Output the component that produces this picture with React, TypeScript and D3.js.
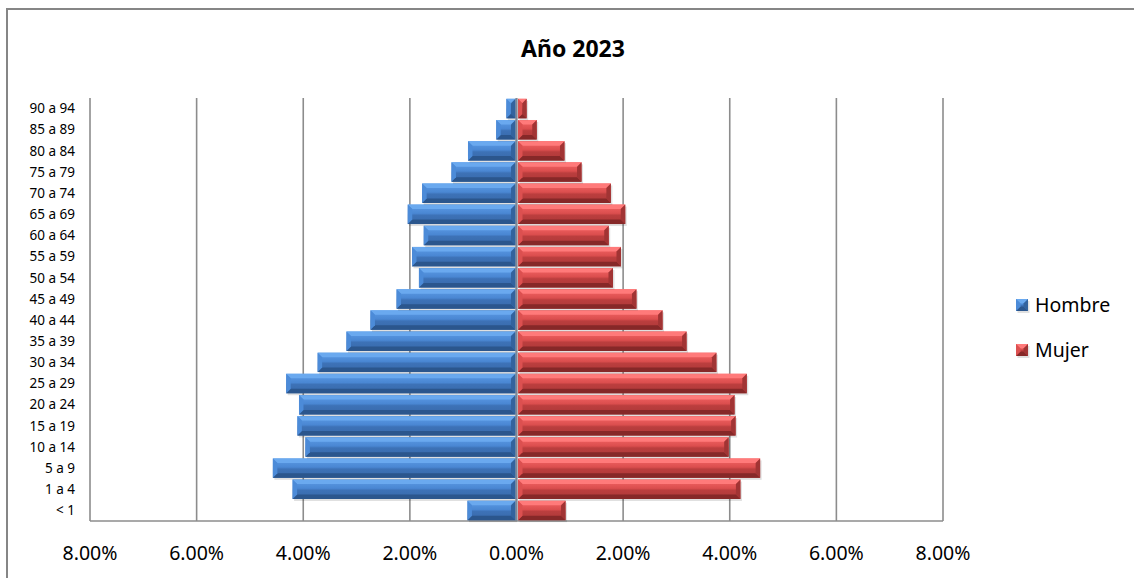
import * as d3 from "d3";
import React from "react";

const WIDTH = 1134;
const HEIGHT = 578;
const PLOT = { left: 90, right: 943, top: 98, bottom: 521 };

// age groups from youngest to oldest, values in %
const ageGroups = [
    "< 1", "1 a 4", "5 a 9", "10 a 14", "15 a 19", "20 a 24", "25 a 29",
    "30 a 34", "35 a 39", "40 a 44", "45 a 49", "50 a 54", "55 a 59",
    "60 a 64", "65 a 69", "70 a 74", "75 a 79", "80 a 84", "85 a 89", "90 a 94",
];
const hombre = [
    0.92, 4.2, 4.57, 3.96, 4.11, 4.08, 4.32, 3.73, 3.19, 2.74, 2.25, 1.83,
    1.96, 1.74, 2.04, 1.77, 1.22, 0.91, 0.38, 0.19,
];
const mujer = [
    0.92, 4.2, 4.57, 3.98, 4.11, 4.09, 4.32, 3.75, 3.19, 2.74, 2.25, 1.81,
    1.96, 1.73, 2.04, 1.77, 1.22, 0.9, 0.38, 0.19,
];
const xTicks = [-8, -6, -4, -2, 0, 2, 4, 6, 8];

type Palette = {
    id: string;
    top: string;
    bottom: string;
    left: string;
    right: string;
    stops: string[];
};

const BLUE: Palette = {
    id: "gradBlue",
    top: "#6aa9ef",
    bottom: "#2b568d",
    left: "#4c8bd8",
    right: "#33639e",
    stops: ["#5d9ce6", "#4a87d3", "#3d72b7", "#3869a9"],
};
const RED: Palette = {
    id: "gradRed",
    top: "#ff7a7a",
    bottom: "#862828",
    left: "#dc5050",
    right: "#a13434",
    stops: ["#f56666", "#db4e4e", "#bb3e3e", "#ac3838"],
};

const FONT = "'Noto Sans', 'Open Sans', sans-serif";

const BevelBar: React.FC<{
    x: number;
    y: number;
    w: number;
    h: number;
    pal: Palette;
}> = ({ x, y, w, h, pal }) => {
    const b = Math.min(4.5, w / 2, h / 2);
    const pts = (arr: number[][]) => arr.map((p) => p.join(",")).join(" ");
    return (
        <g>
            <rect x={x + 1.5} y={y + 2} width={w} height={h} fill="#000" opacity={0.12} />
            <rect x={x} y={y} width={w} height={h} fill={`url(#${pal.id})`} />
            <polygon
                points={pts([[x, y], [x + w, y], [x + w - b, y + b], [x + b, y + b]])}
                fill={pal.top}
            />
            <polygon
                points={pts([[x, y + h], [x + w, y + h], [x + w - b, y + h - b], [x + b, y + h - b]])}
                fill={pal.bottom}
            />
            <polygon
                points={pts([[x, y], [x + b, y + b], [x + b, y + h - b], [x, y + h]])}
                fill={pal.left}
            />
            <polygon
                points={pts([[x + w, y], [x + w - b, y + b], [x + w - b, y + h - b], [x + w, y + h]])}
                fill={pal.right}
            />
        </g>
    );
};

const App: React.FC = () => {
    const xScale = d3
        .scaleLinear()
        .domain([-8, 8])
        .range([PLOT.left, PLOT.right]);

    const yScale = d3
        .scaleBand<string>()
        .domain([...ageGroups].reverse())
        .range([PLOT.top, PLOT.bottom])
        .paddingInner(0.08)
        .paddingOuter(0.04);

    const x0 = xScale(0);
    const bh = yScale.bandwidth();

    return (
        <svg
            width={WIDTH}
            height={HEIGHT}
            style={{ position: "absolute", left: 0, top: 0, background: "#fff" }}
        >
            <defs>
                {[BLUE, RED].map((p) => (
                    <linearGradient key={p.id} id={p.id} x1="0" y1="0" x2="0" y2="1">
                        <stop offset="0%" stopColor={p.stops[0]} />
                        <stop offset="45%" stopColor={p.stops[1]} />
                        <stop offset="55%" stopColor={p.stops[2]} />
                        <stop offset="100%" stopColor={p.stops[3]} />
                    </linearGradient>
                ))}
            </defs>

            {/* chart frame */}
            <rect x={7} y={9} width={1140} height={600} fill="none" stroke="#868686" strokeWidth={2} />

            <text
                x={573}
                y={57}
                textAnchor="middle"
                fontFamily={FONT}
                fontWeight="bold"
                fontSize={23}
                fill="#000"
            >
                Año 2023
            </text>

            {/* gridlines */}
            {xTicks.map((t) => (
                <line
                    key={t}
                    x1={xScale(t)}
                    x2={xScale(t)}
                    y1={PLOT.top}
                    y2={PLOT.bottom}
                    stroke="#8c8c8c"
                    strokeWidth={1.6}
                />
            ))}
            <line
                x1={PLOT.left}
                x2={PLOT.right}
                y1={PLOT.bottom}
                y2={PLOT.bottom}
                stroke="#8c8c8c"
                strokeWidth={1.6}
            />

            {/* bars */}
            {ageGroups.map((g, i) => {
                const y = yScale(g) ?? 0;
                const xl = xScale(-hombre[i]);
                const xr = xScale(mujer[i]);
                return (
                    <g key={g}>
                        <BevelBar x={xl} y={y} w={x0 - 1 - xl} h={bh} pal={BLUE} />
                        <BevelBar x={x0 + 1.5} y={y} w={xr - x0 - 1.5} h={bh} pal={RED} />
                    </g>
                );
            })}

            {/* centre axis */}
            <line x1={x0} x2={x0} y1={PLOT.top} y2={PLOT.bottom} stroke="#7c8796" strokeWidth={2} />

            {/* y labels */}
            {ageGroups.map((g) => (
                <text
                    key={g}
                    x={75}
                    y={(yScale(g) ?? 0) + bh / 2}
                    dy="0.35em"
                    textAnchor="end"
                    fontFamily={FONT}
                    fontSize={13.5}
                    fill="#000"
                >
                    {g}
                </text>
            ))}

            {/* x labels */}
            {xTicks.map((t) => (
                <text
                    key={t}
                    x={xScale(t)}
                    y={560}
                    textAnchor="middle"
                    fontFamily={FONT}
                    fontSize={19.5}
                    fill="#000"
                >
                    {Math.abs(t).toFixed(2)}%
                </text>
            ))}

            {/* legend */}
            {[
                { label: "Hombre", pal: BLUE, y: 299 },
                { label: "Mujer", pal: RED, y: 344 },
            ].map((d) => (
                <g key={d.label}>
                    <BevelBar x={1016} y={d.y} w={12} h={12} pal={d.pal} />
                    <text
                        x={1035}
                        y={d.y + 13}
                        fontFamily={FONT}
                        fontSize={19.5}
                        fill="#000"
                    >
                        {d.label}
                    </text>
                </g>
            ))}
        </svg>
    );
};

export default App;
